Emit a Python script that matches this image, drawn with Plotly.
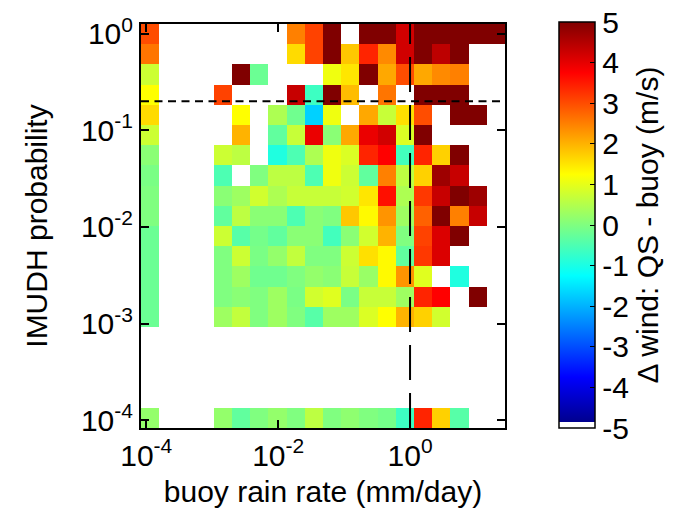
import plotly.graph_objects as go

# ---- data ----
# bin edges (log10 of value)
x_edges_log = [-4.080, -3.804, -3.528, -3.252, -2.976, -2.700, -2.424, -2.148, -1.872,
               -1.596, -1.320, -1.044, -0.768, -0.492, -0.216, 0.060, 0.336, 0.612,
               0.888, 1.164, 1.440]
y_edges_log = [-4.080, -3.871, -3.662, -3.453, -3.244, -3.035, -2.826, -2.617, -2.408,
               -2.199, -1.990, -1.781, -1.572, -1.363, -1.154, -0.945, -0.736, -0.527,
               -0.318, -0.109, 0.100]

N = None
# rows listed from top (highest probability) to bottom
dwind_rows_top_down = [
    [3.0, N, N, N, N, N, N, N, 2.5, 3.1, 5, N, 5, 5, 4.2, 5, 5, 5, 5, 5],
    [2.6, N, N, N, N, N, N, N, 1.6, 3.1, 5, 1.8, 3.4, 2.4, 4.2, 5, 4.4, 5, N, N],
    [0.75, N, N, N, N, 5, -0.2, N, N, N, 1.1, 1.5, 5, 2.1, 3.0, 2.1, 2.4, 2.5, N, N],
    [1.25, N, N, N, 3.1, N, N, N, 4.3, -0.65, 5, 1.9, N, 2.6, N, 5, 5, 5, N, N],
    [1.6, N, N, N, N, 1.25, N, 0.45, -0.15, -1.7, 1.1, N, 2.1, 0.7, 1.55, 3.0, N, 5, 5, N],
    [0.75, N, N, N, N, 2.0, N, -0.3, 0.7, 3.95, 0.1, 2.1, 3.95, 4.2, 0.9, 5, N, N, N, N],
    [0.1, N, N, N, 0.75, 0.6, N, -0.95, -0.5, 0.45, 1.1, 0.9, 3.4, 3.75, -0.6, 3.4, 1.7, 5, N, N],
    [-0.05, N, N, N, -0.5, N, 0.0, 0.6, 0.6, -0.5, 1.1, 0.75, -0.3, 2.5, 0.6, 1.7, 4.7, 4.3, N, N],
    [0.0, N, N, N, 0.1, 0.3, 0.8, 0.45, 0.7, 0.7, 0.7, 0.8, 1.5, 3.6, 0.45, 3.2, 4.3, 5, 4.7, N],
    [0.0, N, N, N, -0.3, 0.6, 0.1, 0.1, -0.5, 0.1, 0.0, 1.8, 1.3, 2.3, 0.3, 2.8, 5, 2.5, 4.3, N],
    [-0.2, N, N, N, 0.75, -0.4, -0.1, -0.3, 0.1, 0.1, -0.6, 0.1, 0.8, 2.0, 0.0, 3.1, 4.1, 5, N, N],
    [-0.2, N, N, N, 0.0, 0.75, -0.05, 0.2, 0.65, 0.0, 0.0, 0.75, 1.55, 1.3, -0.3, 3.2, 4.1, N, N, N],
    [-0.2, N, N, N, 0.0, 0.3, -0.15, -0.15, 0.0, 0.2, 0.1, 0.7, 0.25, 1.3, 2.3, 0.95, N, -0.95, N, N],
    [-0.2, N, N, N, 0.0, 0.1, 0.0, 0.3, -0.05, 0.8, 0.95, -0.05, 0.7, 0.7, 0.3, 3.4, 3.75, N, 5, N],
    [-0.2, N, N, N, 0.3, 0.65, 0.0, 0.3, 0.0, -0.4, 0.3, 0.3, 0.9, 1.25, 2.0, 1.7, 0.8, N, N, N],
    [N] * 20,
    [N] * 20,
    [N] * 20,
    [N] * 20,
    [0.2, N, N, N, 0.2, -0.3, 0.0, 0.2, 0.0, 0.6, 0.0, 0.15, 0.0, -0.1, -0.65, 3.4, 1.7, -0.4, N, N],
]

rain_threshold = 1.0      # mm/day (vertical dashed line)
prob_threshold = 0.2      # IMUDH probability (horizontal dashed line)

x_tick_vals = [1e-4, 1e-2, 1e0]
x_tick_text = ["10<sup>-4</sup>", "10<sup>-2</sup>", "10<sup>0</sup>"]
y_tick_vals = [1e-4, 1e-3, 1e-2, 1e-1, 1e0]
y_tick_text = ["10<sup>-4</sup>", "10<sup>-3</sup>", "10<sup>-2</sup>", "10<sup>-1</sup>", "10<sup>0</sup>"]
cbar_ticks = [-5, -4, -3, -2, -1, 0, 1, 2, 3, 4, 5]
cbar_tick_text = ["-5", "-4", "-3", "-2", "-1", "0", "1", "2", "3", "4", "5"]

# ---- figure ----
x_edges = [10 ** v for v in x_edges_log]
y_edges = [10 ** v for v in y_edges_log]
z = dwind_rows_top_down[::-1]

jet_white = [
    [0.0, "rgb(255,255,255)"], [1 / 64, "rgb(255,255,255)"],
    [1 / 64, "rgb(0,0,143)"], [0.125, "rgb(0,0,255)"],
    [0.375, "rgb(0,255,255)"], [0.625, "rgb(255,255,0)"],
    [0.875, "rgb(255,0,0)"], [1.0, "rgb(128,0,0)"],
]

L, R, T, B = 141, 180, 24, 85
W, H = 685, 513
pw = W - L - R

fig = go.Figure()
fig.add_trace(go.Heatmap(
    x=x_edges, y=y_edges, z=z, zmin=-5, zmax=5, colorscale=jet_white,
    hoverongaps=False,
    colorbar=dict(
        thickness=36, thicknessmode="pixels", len=406, lenmode="pixels",
        x=(559 - L) / pw, xanchor="left", xpad=0,
        y=0, yanchor="bottom", ypad=0,
        outlinecolor="black", outlinewidth=1.5,
        ticks="inside", ticklen=5, tickcolor="black",
        tickvals=cbar_ticks, ticktext=cbar_tick_text,
        tickfont=dict(size=30, color="black"),
        title=dict(text="\u0394 wind: QS - buoy (m/s)", side="right",
                   font=dict(size=30, color="black")),
    ),
))

xr = [x_edges_log[0], x_edges_log[-1]]
yr = [y_edges_log[0], y_edges_log[-1]]

fig.add_trace(go.Scatter(
    x=[rain_threshold, rain_threshold], y=[10 ** yr[0], 10 ** yr[1]],
    mode="lines", line=dict(color="black", width=2, dash="35px,13px"),
    hoverinfo="skip", showlegend=False))
fig.add_trace(go.Scatter(
    x=[10 ** xr[0], 10 ** xr[1]], y=[prob_threshold, prob_threshold],
    mode="lines", line=dict(color="black", width=2, dash="8px,5.5px"),
    hoverinfo="skip", showlegend=False))

axis_common = dict(
    type="log", showgrid=False, zeroline=False,
    ticks="inside", ticklen=8, tickwidth=1.5, tickcolor="black",
    showline=True, linecolor="black", linewidth=2, mirror="ticks",
    tickfont=dict(size=30, color="black"),
)
fig.update_xaxes(range=xr, tickvals=x_tick_vals, ticktext=x_tick_text,
                 title=dict(text="buoy rain rate (mm/day)", font=dict(size=30, color="black"), standoff=10),
                 **axis_common)
fig.update_yaxes(range=yr, tickvals=y_tick_vals, ticktext=y_tick_text,
                 title=dict(text="IMUDH probability", font=dict(size=30, color="black"), standoff=24),
                 **axis_common)

fig.update_layout(
    width=W, height=H, margin=dict(l=L, r=R, t=T, b=B, autoexpand=False),
    paper_bgcolor="white", plot_bgcolor="white",
    font=dict(family="Liberation Sans, Arial, sans-serif", size=30, color="black"),
    showlegend=False,
)

fig.write_html("out.html")
